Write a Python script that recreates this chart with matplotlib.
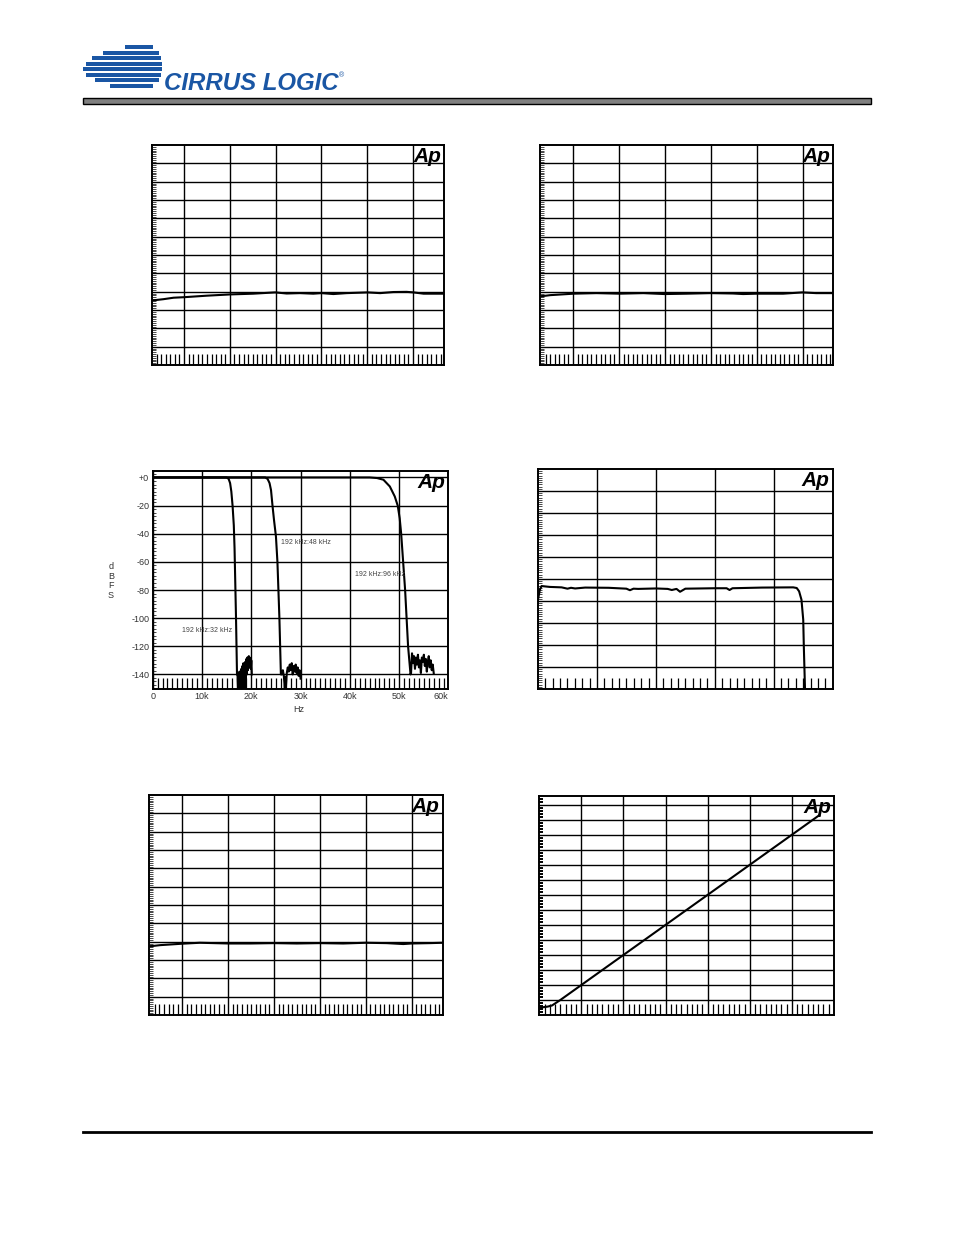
import numpy as np
import matplotlib
matplotlib.use('Agg')
import matplotlib.pyplot as plt
from matplotlib.patches import Rectangle

plt.rcParams['font.family'] = ['Liberation Sans', 'DejaVu Sans']

# ---- data (panel units = grid divisions unless noted) ----
# top-left: passband ripple
p1_x = [0, 0.25, 0.47, 0.71, 1.19, 1.71, 2.21, 2.69, 2.94, 3.23, 3.52, 3.70, 3.96,
        4.25, 4.71, 4.98, 5.27, 5.56, 5.71, 5.93, 6.14, 6.38]
p1_y = [3.52, 3.59, 3.67, 3.70, 3.78, 3.85, 3.89, 3.96, 3.90, 3.92, 3.89, 3.92, 3.87,
        3.92, 3.96, 3.92, 3.98, 3.99, 3.96, 3.89, 3.89, 3.89]

# top-right
p2_x = [0, 0.22, 0.73, 1.23, 1.73, 2.25, 2.71, 3.19, 3.71, 4.20, 4.42, 4.71, 5.29,
        5.71, 6.01, 6.38]
p2_y = [3.74, 3.81, 3.89, 3.92, 3.89, 3.92, 3.87, 3.89, 3.92, 3.90, 3.87, 3.89, 3.89,
        3.96, 3.92, 3.92]

# middle-left: sample rate converter stopband (kHz, dBFS)
f32 = [0, 15.0, 15.4, 15.7, 15.95, 16.2, 16.45, 16.6, 16.75, 16.9, 17.1,
       17.2, 17.3, 17.4, 17.5, 17.6, 17.7, 17.8, 17.9, 18.0, 18.1, 18.2, 18.3, 18.4,
       18.5, 18.6, 18.7, 18.8, 18.9, 19.0, 19.1, 19.2, 19.3, 19.4, 19.5, 19.6, 19.7,
       19.8, 19.9, 20.0, 20.1]
d32 = [0, 0, -1, -4, -10, -20, -34, -50, -75, -100, -140,
       -140, -150, -142, -150, -138, -150, -140, -150, -136, -148, -134, -150, -132,
       -146, -135, -150, -131, -143, -129, -140, -128, -137, -130, -127, -135, -128,
       -133, -136, -130, -140]
f48 = [0, 22.8, 23.3, 23.7, 24.0, 24.3, 24.6, 25.0, 25.3, 25.5, 25.7, 25.85, 26.0,
       26.2, 26.4, 26.6, 26.8, 26.9, 27.0, 27.2, 27.4, 27.6, 27.8, 28.0, 28.2, 28.4,
       28.6, 28.8, 29.0, 29.2, 29.4, 29.6, 29.8, 30.0]
d48 = [0, 0, -1, -4, -9, -20, -30, -42, -60, -80, -100, -120, -140,
       -140, -137, -141, -150, -142, -150, -139, -135, -138, -133, -137, -132, -140,
       -134, -138, -133, -139, -135, -141, -137, -143]
f96 = [0, 44.0, 45.5, 46.8, 48.1, 49.1, 49.7, 50.1, 50.4, 50.8, 51.2, 51.5, 51.8,
       52.1, 52.3, 52.4, 52.6, 52.8, 53.0, 53.2, 53.4, 53.6, 53.8, 54.0, 54.2, 54.4,
       54.6, 54.8, 55.0, 55.2, 55.4, 55.6, 55.8, 56.0, 56.2, 56.4, 56.6, 56.8, 57.0]
d96 = [0, 0, -0.4, -1.6, -6.4, -13.5, -20, -29, -40, -60, -80, -100, -120,
       -132, -140, -139, -125, -132, -127, -136, -128, -133, -126, -135, -130, -139,
       -128, -131, -126, -134, -129, -138, -131, -127, -135, -130, -137, -133, -139]
p3_labels = ['192 kHz:32 kHz', '192 kHz:48 kHz', '192 kHz:96 kHz']
p3_label_pos = [(11.0, -109), (31.0, -46.5), (46.1, -69)]
db_ticks = [0, -20, -40, -60, -80, -100, -120, -140]
db_labels = ['+0', '-20', '-40', '-60', '-80', '-100', '-120', '-140']
hz_ticks = [0, 10, 20, 30, 40, 50, 60]
hz_labels = ['0', '10k', '20k', '30k', '40k', '50k', '60k']

# middle-right: passband with cutoff
p4_x = [0, 0.03, 0.06, 0.2, 0.4, 0.5, 0.56, 0.63, 0.8, 1.2, 1.5, 1.56, 1.62, 1.7,
        2.0, 2.2, 2.27, 2.35, 2.41, 2.5, 3.0, 3.2, 3.25, 3.3, 3.8, 4.33, 4.39, 4.43,
        4.47, 4.50, 4.51, 4.53, 4.54]
p4_y = [4.06, 4.5, 4.68, 4.64, 4.62, 4.56, 4.60, 4.57, 4.61, 4.60, 4.56, 4.49, 4.56,
        4.55, 4.57, 4.55, 4.50, 4.55, 4.42, 4.56, 4.58, 4.58, 4.50, 4.58, 4.61, 4.62,
        4.59, 4.44, 4.06, 3.15, 1.94, 0.0, -0.5]

# bottom-right: linearity
p5_x = [0, 0.1, 0.2, 0.3, 0.5, 1, 2, 3, 4, 5, 6, 6.65]
p5_y = [0.5, 0.52, 0.56, 0.63, 1.0, 2, 4, 6, 8, 10, 12, 13.3]

# bottom-left
p6_x = [0, 0.24, 0.73, 1.11, 1.73, 2.20, 2.72, 3.22, 3.71, 4.23, 4.72, 5.18, 5.54,
        5.72, 6.12, 6.40]
p6_y = [3.74, 3.81, 3.89, 3.94, 3.90, 3.90, 3.92, 3.90, 3.92, 3.90, 3.94, 3.92, 3.87,
        3.90, 3.92, 3.94]

W, H = 954, 1235
fig = plt.figure(figsize=(W / 100, H / 100), dpi=100)
blue = '#1a56a4'

# page decoration (header logo, rules)
deco = fig.add_axes([0, 0, 1, 1])
deco.set_xlim(0, W)
deco.set_ylim(H, 0)
deco.axis('off')
stripe_y = [47.2, 52.7, 58.2, 63.7, 69.2, 74.7, 80.2, 85.7]
stripe_left = [125, 103, 92, 86, 83, 86, 95, 110]
for y, xl in zip(stripe_y, stripe_left):
    dy = abs(y - 66.5) / 23.5
    xr = 124 + 38 * max(0.0, 1 - dy ** 3) ** (1 / 3)
    deco.add_patch(Rectangle((xl, y - 2.2), xr - xl, 4.4, color=blue, lw=0))
deco.text(164, 89.5, 'CIRRUS LOGIC', fontsize=17.3, fontweight='bold', style='italic',
          color=blue, ha='left', va='baseline')
deco.text(339, 77, '®', fontsize=5, color=blue, ha='left', va='baseline')
deco.add_patch(Rectangle((83, 98), 788, 5.5, facecolor='#808080', edgecolor='black', lw=1))
deco.plot([83, 871], [1132, 1132], color='black', lw=2)
deco.text(299, 710, 'Hz', fontsize=6.5, color='#333333', ha='center', va='center')
deco.text(111, 581, 'd\nB\nF\nS', fontsize=6.5, color='#333333', ha='center',
          va='center', linespacing=1.1)


def panel(box, xlim, ylim, xgrid, ygrid, xminor, yminor, ytw=0.5, ytl=2.8):
    x0, y0, x1, y1 = box
    ax = fig.add_axes([x0 / W, 1 - y1 / H, (x1 - x0) / W, (y1 - y0) / H])
    ax.set_xlim(xlim)
    ax.set_ylim(ylim)
    ax.set_xticks(xgrid)
    ax.set_yticks(ygrid)
    ax.set_xticks(xminor, minor=True)
    ax.set_yticks(yminor, minor=True)
    ax.grid(True, which='major', color='black', lw=1.0)
    ax.tick_params(which='major', length=0, labelbottom=False, labelleft=False)
    ax.tick_params(axis='x', which='minor', direction='in', length=7.7, width=0.9)
    ax.tick_params(axis='y', which='minor', direction='in', length=ytl, width=ytw)
    for s in ax.spines.values():
        s.set_linewidth(1.4)
    ax.text(0.99, 0.99, 'Ap', transform=ax.transAxes, ha='right', va='top',
            fontsize=15, fontweight='bold', style='italic', zorder=5)
    return ax


# top-left
ax1 = panel((152, 145, 444, 365), (0, 6.376), (0, 12), np.arange(0.7, 6, 1),
            np.arange(1, 12), np.arange(0.1, 6.376, 0.1), np.arange(0.1, 12, 0.1))
ax1.plot(p1_x, p1_y, color='black', lw=1.5)

# top-right
ax2 = panel((540, 145, 833, 365), (0, 6.376), (0, 12), np.arange(0.72, 6, 1),
            np.arange(1, 12), np.arange(0.12, 6.376, 0.1), np.arange(0.1, 12, 0.1))
ax2.plot(p2_x, p2_y, color='black', lw=1.5)

# middle-left
ax3 = panel((152.7, 471, 448.5, 688.5), (0, 60), (-150, 4.6), hz_ticks, db_ticks,
            np.arange(1, 60, 1), np.arange(-147.5, 4, 2.5), ytl=2)
ax3.set_xticks(hz_ticks, labels=hz_labels)
ax3.set_yticks(db_ticks, labels=db_labels)
ax3.tick_params(which='major', labelbottom=True, labelleft=True, labelsize=6.5,
                labelcolor='#333333', pad=2.5)
ax3.get_xticklabels()[-1].set_ha('right')
for f, d in [(f32, d32), (f48, d48), (f96, d96)]:
    ax3.plot(f, d, color='black', lw=1.5)
for t, (x, y) in zip(p3_labels, p3_label_pos):
    ax3.text(x, y, t, fontsize=5, color='#444444', ha='center', va='center')

# middle-right
ax4 = panel((538, 469, 832.7, 689), (0, 5), (0, 10), np.arange(1, 5), np.arange(1, 10),
            np.arange(0.125, 5, 0.125), np.arange(0.1, 10, 0.1))
ax4.plot(p4_x, p4_y, color='black', lw=1.5)

# bottom-left
ax6 = panel((149, 795, 442.7, 1015), (0, 6.40), (0, 12), np.arange(0.725, 6, 1),
            np.arange(1, 12), np.arange(0.125, 6.4, 0.1), np.arange(0.1, 12, 0.1))
ax6.plot(p6_x, p6_y, color='black', lw=1.5)

# bottom-right
ax5 = panel((539.3, 796, 834, 1015), (0, 7), (0, 14.58), np.arange(1, 7), np.arange(1, 15),
            np.arange(0.125, 7, 0.125), np.arange(0.2, 14.58, 0.2), ytw=1.4, ytl=3)
ax5.plot(p5_x, p5_y, color='black', lw=1.5)

fig.savefig('out.png', dpi=100)
